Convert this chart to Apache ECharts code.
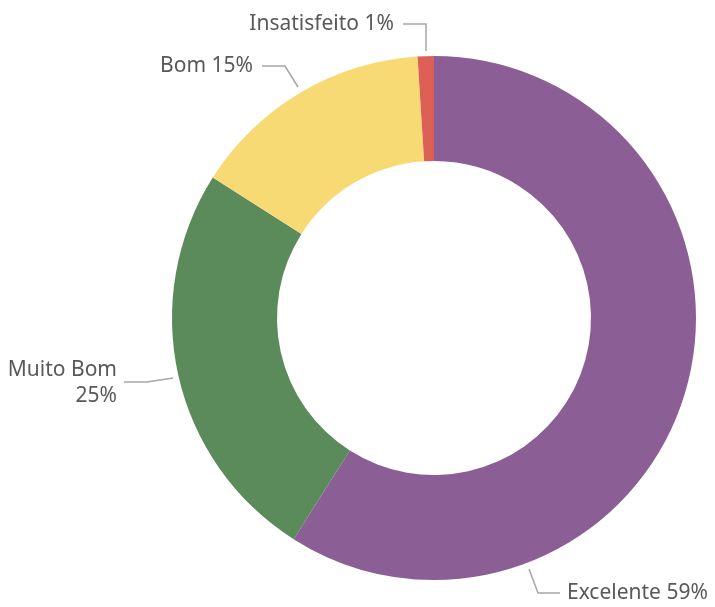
<!DOCTYPE html>
<html>
<head>
<meta charset="utf-8">
<script src="https://cdn.jsdelivr.net/npm/echarts@6/dist/echarts.min.js"></script>
<style>html,body{margin:0;padding:0;background:#fff}#c{width:715px;height:607px}</style>
</head>
<body>
<div id="c"></div>
<script>
const categories = ['Excelente', 'Muito Bom', 'Bom', 'Insatisfeito'];
const values = [59, 25, 15, 1];
const colors = ['#8B5F96', '#5B8A5B', '#F7DA74', '#DD6057'];
const labelTexts = ['Excelente 59%', 'Muito Bom\n25%', 'Bom 15%', 'Insatisfeito 1%'];

// label placement (layout only)
const labelPlacement = [
  {x: 567, y: 593, align: 'left', pts: [[529, 569], [538, 593], [560, 593]]},
  {x: 117, y: 383, align: 'right', pts: [[173, 378], [147, 382], [124, 382]]},
  {x: 253, y: 66, align: 'right', pts: [[298, 87], [285, 66], [262, 66]]},
  {x: 394, y: 24, align: 'right', pts: [[426, 51], [426, 24], [403, 24]]}
];

const chart = echarts.init(document.getElementById('c'), null, {renderer: 'canvas'});
chart.setOption({
  animation: false,
  series: [{
    type: 'pie',
    center: [434, 318],
    radius: [157, 262],
    startAngle: 90,
    clockwise: true,
    avoidLabelOverlap: false,
    label: {
      show: true,
      color: '#595959',
      fontSize: 21,
      fontFamily: 'Noto Sans, sans-serif',
      lineHeight: 26,
      formatter: p => labelTexts[p.dataIndex]
    },
    labelLine: {
      show: true,
      lineStyle: {color: '#a6a6a6', width: 1.5}
    },
    labelLayout: function (params) {
      const p = labelPlacement[params.dataIndex];
      return {
        x: p.x,
        y: p.y,
        align: p.align,
        verticalAlign: 'middle',
        labelLinePoints: p.pts
      };
    },
    data: categories.map((c, i) => ({
      name: c,
      value: values[i],
      itemStyle: {color: colors[i]}
    }))
  }]
});
</script>
</body>
</html>
